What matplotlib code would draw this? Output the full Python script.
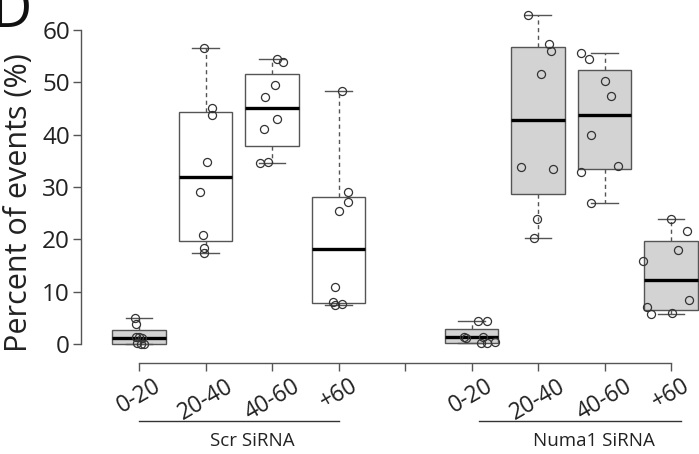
import numpy as np
import matplotlib
matplotlib.use("Agg")
import matplotlib.pyplot as plt

plt.rcParams['font.family'] = ['Open Sans', 'DejaVu Sans']

# DATA ########################################
bins = ['0-20', '20-40', '40-60', '+60']
groups = ['Scr SiRNA', 'Numa1 SiRNA']

scr_0_20 = [5.0, 3.9, 1.4, 1.3, 1.1, 0.1, 0.0, 0.0]
scr_20_40 = [56.5, 45.0, 43.7, 34.7, 29.0, 20.8, 18.4, 17.3]
scr_40_60 = [54.4, 53.8, 49.5, 47.1, 43.0, 41.1, 34.7, 34.5]
scr_60 = [48.3, 29.0, 27.2, 25.5, 10.8, 8.1, 7.6, 7.4]

numa_0_20 = [4.4, 4.4, 1.3, 1.2, 1.3, 0.3, 0.2, 0.1]
numa_20_40 = [62.8, 57.4, 56.0, 51.6, 33.8, 33.4, 23.9, 20.2]
numa_40_60 = [55.6, 54.4, 50.2, 47.4, 40.0, 34.0, 32.8, 26.9]
numa_60 = [23.9, 21.6, 17.9, 15.9, 8.4, 7.0, 6.0, 5.7]

# horizontal jitter of the points
jitter = [
    [-0.06, -0.04, 0.0, -0.05, 0.04, -0.03, 0.03, 0.07],
    [-0.03, 0.10, 0.10, 0.03, -0.09, -0.04, -0.03, -0.02],
    [0.07, 0.17, 0.04, -0.10, 0.07, -0.12, -0.06, -0.18],
    [0.05, 0.15, 0.15, 0.0, -0.05, -0.09, 0.06, -0.06],
    [0.10, 0.24, -0.12, -0.08, 0.17, 0.36, 0.24, 0.15],
    [-0.15, 0.17, 0.20, 0.05, -0.25, 0.23, -0.02, -0.06],
    [-0.35, -0.24, 0.0, 0.10, -0.20, 0.20, -0.36, -0.20],
    [0.0, 0.24, 0.10, -0.42, 0.27, -0.36, 0.02, -0.30],
]

# FUNCTIONS ###################################
def fivenum(x):
    # Tukey hinges, like R's boxplot
    x = np.sort(np.asarray(x, dtype=float))
    n = len(x)
    n4 = np.floor((n + 3) / 2) / 2
    d = np.array([1, n4, (n + 1) / 2, n + 1 - n4, n]) - 1
    return 0.5 * (x[np.floor(d).astype(int)] + x[np.ceil(d).astype(int)])

def box_stats(x):
    lo, q1, med, q3, hi = fivenum(x)
    return dict(whislo=lo, q1=q1, med=med, q3=q3, whishi=hi, fliers=[])

# PLOT ########################################
data = [scr_0_20, scr_20_40, scr_40_60, scr_60,
        numa_0_20, numa_20_40, numa_40_60, numa_60]
positions = [1, 2, 3, 4, 6, 7, 8, 9]
fills = ['#d3d3d3', 'white', 'white', 'white',
         '#d3d3d3', '#d3d3d3', '#d3d3d3', '#d3d3d3']
line_col = '#555555'
text_col = '#222222'

fig = plt.figure(figsize=(6.99, 4.54), dpi=100)
ax = fig.add_axes([81 / 699, 91 / 454, 1 - 81 / 699, 353 / 454])

bp = ax.bxp([box_stats(d) for d in data], positions=positions, widths=0.8,
            patch_artist=True, showfliers=False,
            boxprops=dict(edgecolor=line_col, linewidth=1.0),
            medianprops=dict(color='black', linewidth=2.4, solid_capstyle='butt'),
            whiskerprops=dict(color=line_col, linewidth=1.0, linestyle=(0, (3, 2.5))),
            capprops=dict(color=line_col, linewidth=1.0),
            capwidths=0.4)
for patch, fc in zip(bp['boxes'], fills):
    patch.set_facecolor(fc)

for pos, vals, jit in zip(positions, data, jitter):
    ax.plot(np.array(jit) + pos, vals, 'o', mfc='none', mec='#333333',
            mew=0.9, ms=5.8, zorder=5)

ax.set_xlim(1 - 58 / 66.5, 9 + 28 / 66.5)
ax.set_ylim(-3.63, 63.8)

for s in ['top', 'right']:
    ax.spines[s].set_visible(False)
ax.spines['left'].set_bounds(0, 60)
ax.spines['bottom'].set_bounds(1, 9)
for s in ['left', 'bottom']:
    ax.spines[s].set_color(line_col)
    ax.spines[s].set_linewidth(1.0)

ax.set_yticks(np.arange(0, 61, 10))
ax.tick_params(axis='y', length=6, width=1.0, color=line_col, pad=2,
               labelsize=17.5, labelcolor=text_col)
ax.set_xticks(range(1, 10))
ax.set_xticklabels(bins + [''] + bins, rotation=30, ha='center',
                   fontsize=16.5, color=text_col)
ax.tick_params(axis='x', length=6, width=1.0, color=line_col, pad=2)

ax.set_ylabel('Percent of events (%)', fontsize=22, color=text_col)
ax.yaxis.set_label_coords(-0.076, 0.455)

# group labels with underline
for (x0, x1, label) in [(1, 4, groups[0]), (6.12, 9.15, groups[1])]:
    ax.plot([x0, x1], [-14.7, -14.7], color='#333333', lw=1.0, clip_on=False)
    ax.text((x0 + x1) / 2 + 0.2, -18.5, label, ha='center', va='center',
            fontsize=13.5, color=text_col, clip_on=False)

# panel letter
fig.text(-8 / 699, 1 - 27 / 454, 'D', fontsize=40, ha='left', va='baseline',
         color='#111111')

fig.savefig('out.png', dpi=100)
